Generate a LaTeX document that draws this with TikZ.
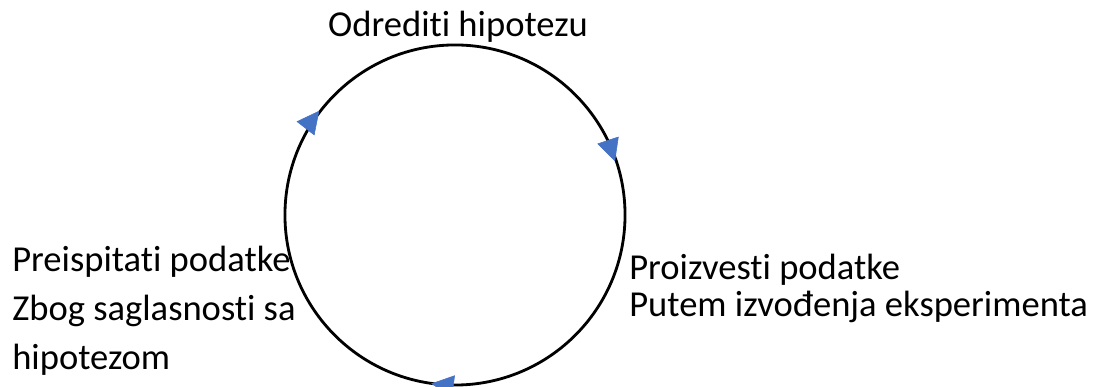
\documentclass[tikz,border=0pt]{standalone}
\usepackage{fontspec}
\setmainfont{Carlito}[Ligatures=NoCommon,RawFeature=-calt]
\usetikzlibrary{positioning,arrows.meta,decorations.markings}
\definecolor{arrowblue}{RGB}{68,114,196}

\tikzset{
  steptext/.style={font=\fontsize{26}{35}\selectfont,inner sep=0pt,align=left},
  cycleline/.style={line width=2pt,black},
  cyclehead/.tip={Triangle[length=0.56cm,width=0.56cm,arrowblue]},
}

\begin{document}
\begin{tikzpicture}[x=0.025cm,y=0.025cm]
  \useasboundingbox (0,0) rectangle (1094,387);
  % the cycle
  \node[circle,cycleline,draw,minimum size=8.5cm,inner sep=0pt] (cyc) at (455,172) {};
  % clockwise arrow heads along the rim
  \path[decoration={markings,
      mark=at position 0.105 with {\arrow{cyclehead}},
      mark=at position 0.449 with {\arrow{cyclehead}},
      mark=at position 0.771 with {\arrow{cyclehead}}},
    postaction=decorate]
    (cyc.west) arc[start angle=180,end angle=-180,radius=4.25cm];
  % step labels (base = last line)
  \node[steptext,anchor=base] (hyp) at (458,350) {Odrediti hipotezu};
  \node[steptext,anchor=base west,font=\fontsize{26}{27}\selectfont] (data) at (629,70)
    {Proizvesti podatke\\Putem izvođenja eksperimenta};
  \node[steptext,anchor=base west] (check) at (12,17)
    {Preispitati podatke\\Zbog saglasnosti sa\\hipotezom};
\end{tikzpicture}
\end{document}
